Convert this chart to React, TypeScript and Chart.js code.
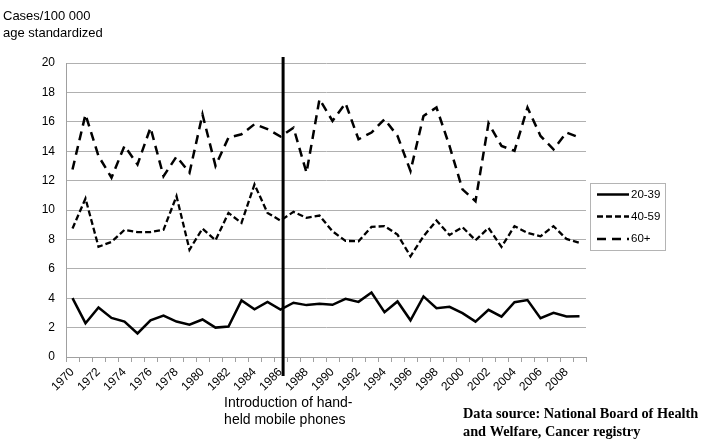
import React, { useEffect, useRef } from "react";
import { Chart, registerables } from "chart.js";

Chart.register(...registerables);

const years: string[] = [
  "1970","1971","1972","1973","1974","1975","1976","1977","1978","1979",
  "1980","1981","1982","1983","1984","1985","1986","1987","1988","1989",
  "1990","1991","1992","1993","1994","1995","1996","1997","1998","1999",
  "2000","2001","2002","2003","2004","2005","2006","2007","2008","2009",
];

const age20to39: number[] = [
  4.0, 2.3, 3.37, 2.66, 2.41, 1.6, 2.5, 2.82, 2.41, 2.2,
  2.55, 2.0, 2.07, 3.85, 3.25, 3.75, 3.23, 3.69, 3.53, 3.62,
  3.55, 3.96, 3.75, 4.39, 3.05, 3.78, 2.5, 4.12, 3.32, 3.41,
  2.98, 2.41, 3.21, 2.75, 3.73, 3.87, 2.64, 3.0, 2.75, 2.77,
];

const age40to59: number[] = [
  8.74, 10.78, 7.5, 7.83, 8.65, 8.5, 8.5, 8.65, 10.94, 7.3,
  8.74, 7.94, 9.8, 9.12, 11.74, 9.8, 9.28, 9.87, 9.47, 9.62,
  8.55, 7.9, 7.87, 8.85, 8.9, 8.33, 6.85, 8.21, 9.28, 8.3,
  8.83, 7.94, 8.78, 7.49, 8.9, 8.44, 8.21, 8.9, 8.03, 7.76,
];

const age60plus: number[] = [
  12.76, 16.5, 13.67, 12.2, 14.36, 13.1, 15.6, 12.3, 13.63, 12.54,
  16.5, 13.0, 14.93, 15.15, 15.84, 15.5, 15.0, 15.6, 12.54, 17.54,
  16.06, 17.27, 14.81, 15.27, 16.18, 15.04, 12.65, 16.4, 16.97, 14.36,
  11.4, 10.6, 15.9, 14.36, 14.02, 16.97, 15.04, 14.13, 15.27, 14.93,
];

const seriesNames: string[] = ["20-39", "40-59", "60+"];
const yTicks: number[] = [0, 2, 4, 6, 8, 10, 12, 14, 16, 18, 20];
const yTitleLines: string[] = ["Cases/100 000", "age standardized"];
const markerYear = "1986";
const markerLines: string[] = ["Introduction of hand-", "held mobile phones"];
const sourceLines: string[] = ["Data source: National Board of Health", "and Welfare, Cancer registry"];

const dashes: number[][] = [[], [6, 3], [9, 6]];
const widths: number[] = [2.5, 2.3, 2.5];

const overlayPlugin = {
  id: "overlay",
  afterDatasetsDraw(chart: any) {
    const { ctx, chartArea, scales } = chart;
    const x = scales.x;
    const idx = years.indexOf(markerYear);
    const mx = x.getPixelForValue(idx + 0.2);
    ctx.save();
    ctx.strokeStyle = "#000";
    ctx.lineWidth = 3;
    ctx.setLineDash([]);
    ctx.beginPath();
    ctx.moveTo(mx, chartArea.top - 6);
    ctx.lineTo(mx, chartArea.bottom + 19);
    ctx.stroke();

    ctx.fillStyle = "#000";
    ctx.font = "13px 'Liberation Sans', Arial, sans-serif";
    ctx.textAlign = "left";
    ctx.textBaseline = "alphabetic";
    ctx.fillText(yTitleLines[0], 3, 20);
    ctx.fillText(yTitleLines[1], 3, 37);

    ctx.font = "14px 'Liberation Sans', Arial, sans-serif";
    ctx.fillText(markerLines[0], mx - 59, 407);
    ctx.fillText(markerLines[1], mx - 59, 424);

    ctx.font = "bold 14.3px 'Liberation Serif', 'Times New Roman', serif";
    ctx.fillText(sourceLines[0], 463, 418);
    ctx.fillText(sourceLines[1], 463, 436);

    const lx = chartArea.right + 4;
    const ly = 183;
    const lw = 75;
    const lh = 67;
    ctx.strokeStyle = "#b4b4b4";
    ctx.lineWidth = 1;
    ctx.strokeRect(lx + 0.5, ly + 0.5, lw, lh);
    ctx.font = "11.5px 'Liberation Sans', Arial, sans-serif";
    ctx.textBaseline = "middle";
    const rowsY = [194.5, 216.5, 239];
    chart.data.datasets.forEach((ds: any, i: number) => {
      const y = rowsY[i];
      ctx.strokeStyle = "#000";
      ctx.lineWidth = widths[i];
      ctx.setLineDash(dashes[i]);
      ctx.beginPath();
      ctx.moveTo(lx + 7, y);
      ctx.lineTo(lx + 39, y);
      ctx.stroke();
      ctx.setLineDash([]);
      ctx.fillStyle = "#000";
      ctx.fillText(ds.label, lx + 41, y);
    });
    ctx.restore();
  },
};

export default function App() {
  const ref = useRef<HTMLCanvasElement | null>(null);

  useEffect(() => {
    document.body.style.margin = "0";
    const canvas = ref.current;
    if (!canvas) return;
    const data = [age20to39, age40to59, age60plus];
    const chart = new Chart(canvas, {
      type: "line",
      data: {
        labels: years,
        datasets: seriesNames.map((name, i) => ({
          label: name,
          data: data[i],
          borderColor: "#000",
          backgroundColor: "#000",
          borderWidth: widths[i],
          borderDash: dashes[i],
          pointRadius: 0,
          pointHoverRadius: 0,
          tension: 0,
          fill: false,
        })),
      },
      options: {
        responsive: false,
        animation: false,
        events: [],
        layout: { padding: { left: 0, right: 117, top: 63, bottom: 0 } },
        plugins: {
          legend: { display: false },
          tooltip: { enabled: false },
          title: { display: false },
        },
        scales: {
          x: {
            type: "category",
            offset: true,
            afterFit: (s: any) => { s.height = 86; },
            grid: {
              offset: true,
              drawOnChartArea: false,
              drawTicks: true,
              tickLength: 5,
              color: "#a0a0a0",
            },
            border: { color: "#a0a0a0", width: 1 },
            ticks: {
              autoSkip: false,
              maxRotation: 45,
              minRotation: 45,
              padding: 3,
              color: "#000",
              font: { family: "'Liberation Sans', Arial, sans-serif", size: 12 },
              callback: (_v: any, i: number) => (i % 2 === 0 ? years[i] : ""),
            },
          },
          y: {
            min: 0,
            max: 20,
            afterFit: (s: any) => { s.width = 66; },
            afterBuildTicks: (s: any) => { s.ticks = yTicks.map((v) => ({ value: v })); },
            grid: { drawTicks: false, color: "#b0b0b0", lineWidth: 1 },
            border: { color: "#a0a0a0", width: 1 },
            ticks: {
              padding: 11,
              color: "#000",
              font: { family: "'Liberation Sans', Arial, sans-serif", size: 12 },
            },
          },
        },
      },
      plugins: [overlayPlugin],
    } as any);
    return () => chart.destroy();
  }, []);

  return (
    <div style={{ position: "absolute", left: 0, top: 0, width: 703, height: 443, background: "#fff" }}>
      <canvas ref={ref} width={703} height={443} style={{ width: 703, height: 443 }} />
    </div>
  );
}
